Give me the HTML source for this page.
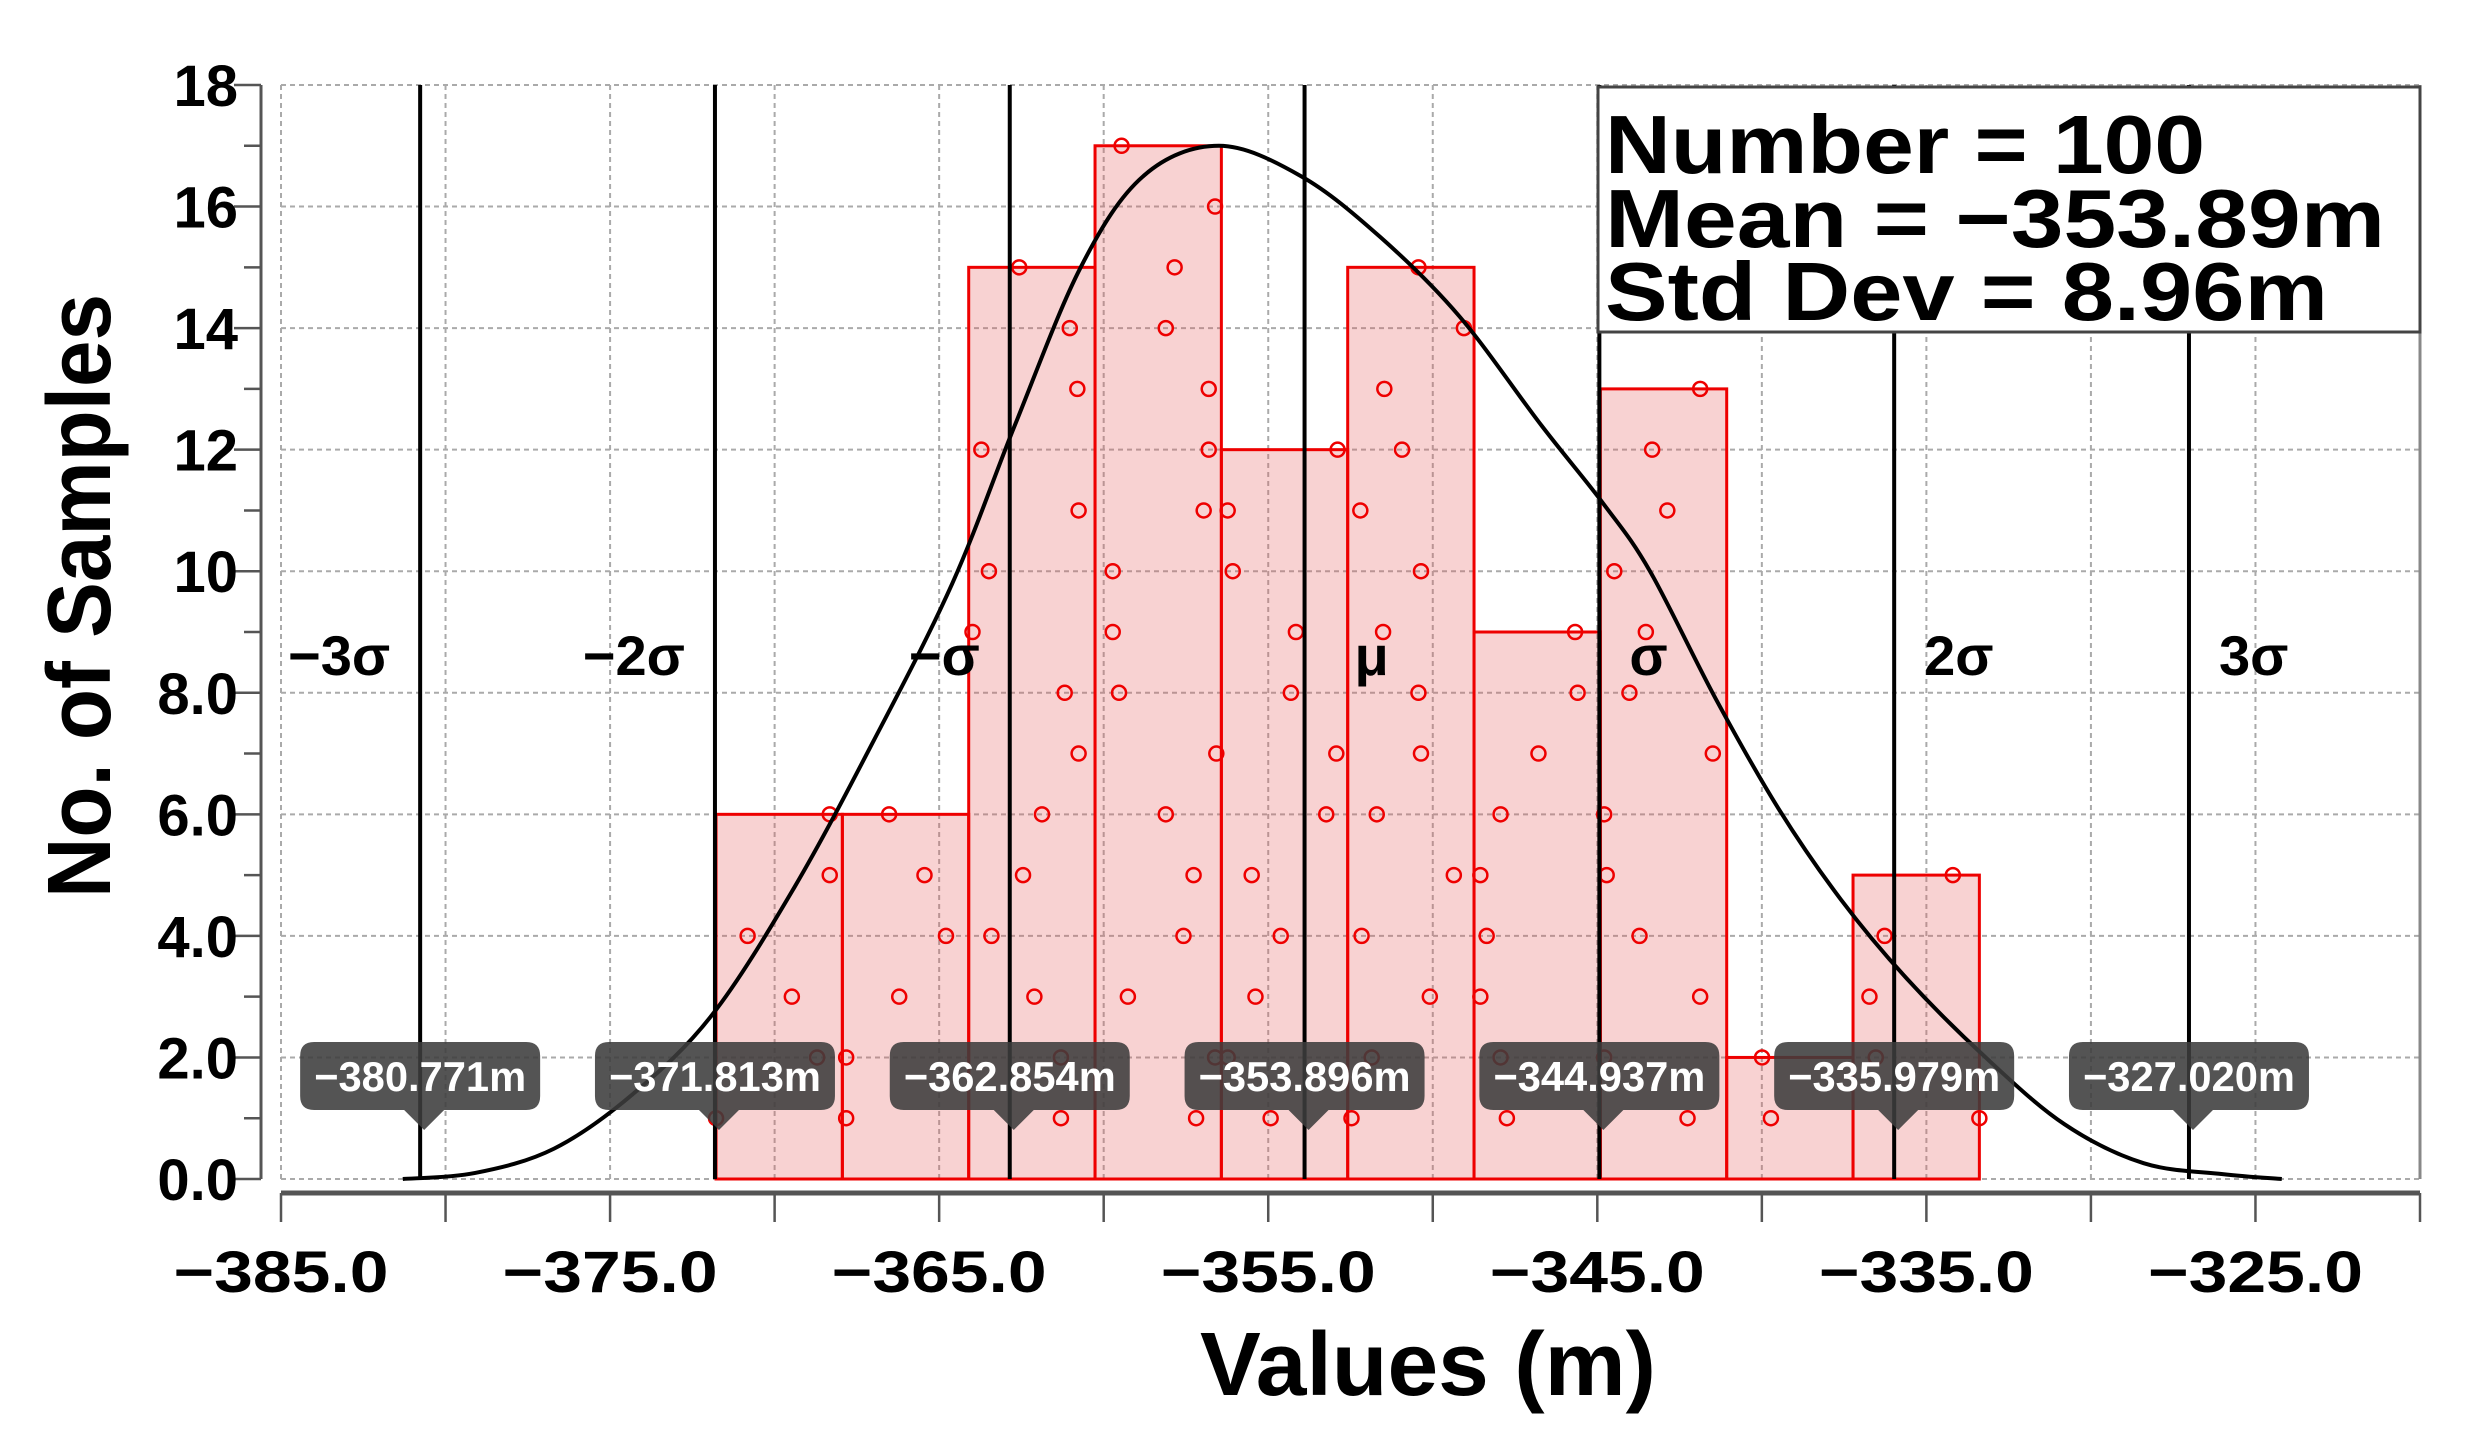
<!DOCTYPE html>
<html><head><meta charset="utf-8"><style>
html,body{margin:0;padding:0;background:#fff;}
svg{display:block;font-family:"Liberation Sans",sans-serif;font-weight:bold;}
</style></head><body>
<svg id="chart" width="2484" height="1444" viewBox="0 0 2484 1444" xmlns="http://www.w3.org/2000/svg">
<g id="grid"></g>
<g id="bars"></g>
<g id="dots"></g>
<g id="sig"></g>
<path id="curve" fill="none" stroke="#000" stroke-width="4"/>
<g id="axes"></g>
<g id="callouts"></g>
<g>
<rect x="1598" y="87" width="822" height="245" fill="#fff" stroke="#444" stroke-width="3"/>
<text x="1605" y="173" font-size="83" textLength="600" lengthAdjust="spacingAndGlyphs">Number = 100</text>
<text x="1605" y="247" font-size="83" textLength="780" lengthAdjust="spacingAndGlyphs">Mean = −353.89m</text>
<text x="1605" y="320" font-size="83" textLength="723" lengthAdjust="spacingAndGlyphs">Std Dev = 8.96m</text>
</g>
<text x="1428" y="1395" font-size="90" text-anchor="middle" textLength="456" lengthAdjust="spacingAndGlyphs">Values (m)</text>
<text transform="translate(110,596) rotate(-90)" font-size="90" text-anchor="middle" textLength="604" lengthAdjust="spacingAndGlyphs">No. of Samples</text>
</svg>
<script>
const xTicks=[-385,-375,-365,-355,-345,-335,-325];
const yTicks=[0,2,4,6,8,10,12,14,16,18];
const yTickLabels=["0.0","2.0","4.0","6.0","8.0","10","12","14","16","18"];
const binStart=-371.78;
const binWidth=3.839;
const binCounts=[6,6,15,17,12,15,9,13,2,5];
const dotFrac=[
[0.0,0.8,0.6,0.25,0.9,0.9],
[0.03,0.03,0.45,0.82,0.65,0.37],
[0.73,0.73,0.52,0.18,0.43,0.58,0.87,0.76,0.03,0.16,0.87,0.1,0.86,0.8,0.4],
[0.8,0.95,0.26,0.7,0.78,0.56,0.96,0.19,0.14,0.14,0.86,0.9,0.9,0.56,0.63,0.95,0.21],
[0.39,0.05,0.27,0.47,0.24,0.83,0.91,0.55,0.59,0.09,0.05,0.92],
[0.03,0.19,0.65,0.11,0.84,0.23,0.58,0.56,0.28,0.58,0.1,0.43,0.29,0.92,0.56],
[0.26,0.21,0.05,0.1,0.05,0.21,0.51,0.82,0.8],
[0.69,0.03,0.79,0.31,0.05,0.03,0.89,0.23,0.36,0.11,0.53,0.41,0.79],
[0.35,0.28],
[1.0,0.18,0.13,0.25,0.79]];
const mean=-353.896, std=8.9585;
const sigmaK=[-3,-2,-1,0,1,2,3];
const sigmaNames=["−3σ","−2σ","−σ","μ","σ","2σ","3σ"];
const sigmaValues=["−380.771m","−371.813m","−362.854m","−353.896m","−344.937m","−335.979m","−327.020m"];
const curveX=[-381.3,-379.1,-376.7,-374.3,-371.9,-369.4,-367.0,-364.6,-362.7,-360.7,-358.8,-356.5,-354.0,-351.6,-349.2,-346.7,-344.8,-343.4,-341.4,-339.5,-337.6,-335.6,-333.2,-330.8,-328.4,-326.0,-324.2];
const curveY=[0,0.1,0.5,1.4,2.7,4.8,7.2,9.8,12.4,15,16.5,17,16.5,15.5,14.2,12.4,11.1,10,7.9,6.1,4.6,3.3,2.0,0.9,0.26,0.08,0];

const X0=-385,X1=-320,PL=281,PR=2420,PT=85,PB=1179;
const sx=v=>PL+(v-X0)/(X1-X0)*(PR-PL);
const sy=v=>PB-v/18*(PB-PT);
const NS="http://www.w3.org/2000/svg";
function mk(parent,tag,attrs,text){const e=document.createElementNS(NS,tag);for(const k in attrs)e.setAttribute(k,attrs[k]);if(text!==undefined)e.textContent=text;parent.appendChild(e);return e;}
const grid=document.getElementById('grid');
for(let v=X0;v<=X1;v+=5){const l=mk(grid,'line',{x1:sx(v),x2:sx(v),y1:PT,y2:PB,stroke:'#aaa','stroke-width':2,'stroke-dasharray':'5,4'});

}
for(let v=0;v<=18;v+=2){const l=mk(grid,'line',{x1:PL,x2:PR,y1:sy(v),y2:sy(v),stroke:'#aaa','stroke-width':2,'stroke-dasharray':'5,4'});

}
mk(grid,'line',{x1:PR,x2:PR,y1:PT,y2:PB,stroke:'#888','stroke-width':3});
const bars=document.getElementById('bars'),dots=document.getElementById('dots');
binCounts.forEach((c,i)=>{const a=binStart+i*binWidth,b=a+binWidth;
const r=mk(bars,'rect',{x:sx(a),y:sy(c),width:sx(b)-sx(a),height:sy(0)-sy(c),fill:'rgba(230,90,90,0.27)',stroke:'#e00','stroke-width':3});


dotFrac[i].forEach((f,j)=>{const d=mk(dots,'circle',{cx:sx(a+f*binWidth),cy:sy(j+1),r:7,fill:'none',stroke:'#e00','stroke-width':2.5});

});});
const sig=document.getElementById('sig'),cal=document.getElementById('callouts');
sigmaK.forEach((k,i)=>{const v=mean+k*std,x=sx(v);
const l=mk(sig,'line',{x1:x,x2:x,y1:PT,y2:PB,stroke:'#000','stroke-width':4});


const t=mk(sig,'text',{x:k<0?x-30:(k===0?x+50:x+30),y:675,'font-size':56,'text-anchor':k<0?'end':'start'},sigmaNames[i]);


const g=mk(cal,'g',{});


mk(g,'path',{d:`M${x-120},1056 q0,-14 14,-14 h212 q14,0 14,14 v40 q0,14 -14,14 h-82 l-20,20 l-20,-20 h-90 q-14,0 -14,-14 z`,fill:'rgba(60,60,60,0.88)'});
mk(g,'text',{x:x,y:1091,'font-size':42,fill:'#fff','text-anchor':'middle',textLength:212,lengthAdjust:'spacingAndGlyphs'},sigmaValues[i]);});
const pts=curveX.map((v,i)=>[sx(v),sy(curveY[i])]);
let d='M'+pts[0][0].toFixed(1)+','+pts[0][1].toFixed(1);
for(let i=0;i<pts.length-1;i++){const p0=pts[Math.max(0,i-1)],p1=pts[i],p2=pts[i+1],p3=pts[Math.min(pts.length-1,i+2)];
const c1=[p1[0]+(p2[0]-p0[0])/6,p1[1]+(p2[1]-p0[1])/6],c2=[p2[0]-(p3[0]-p1[0])/6,p2[1]-(p3[1]-p1[1])/6];
d+=`C${c1[0].toFixed(1)},${c1[1].toFixed(1)} ${c2[0].toFixed(1)},${c2[1].toFixed(1)} ${p2[0].toFixed(1)},${p2[1].toFixed(1)}`;}
document.getElementById('curve').setAttribute('d',d);
const ax=document.getElementById('axes');
mk(ax,'line',{x1:261,x2:261,y1:PT,y2:PB,stroke:'#555','stroke-width':3});
mk(ax,'line',{x1:PL,x2:PR,y1:1193,y2:1193,stroke:'#555','stroke-width':5});
for(let v=0;v<=18;v++){mk(ax,'line',{x1:v%2?244:234,x2:261,y1:sy(v),y2:sy(v),stroke:'#555','stroke-width':2.5});}
for(let v=X0;v<=X1;v+=5){mk(ax,'line',{x1:sx(v),x2:sx(v),y1:1193,y2:1222,stroke:'#555','stroke-width':2.5});}
yTicks.forEach((v,i)=>{const t=mk(ax,'text',{x:238,y:sy(v)+21,'font-size':58,'text-anchor':'end'},yTickLabels[i]);

});
xTicks.forEach(v=>{const t=mk(ax,'text',{x:sx(v),y:1292,'font-size':58,'text-anchor':'middle',textLength:215,lengthAdjust:'spacingAndGlyphs'},'−'+Math.abs(v).toFixed(1));

});
</script>
</body></html>
